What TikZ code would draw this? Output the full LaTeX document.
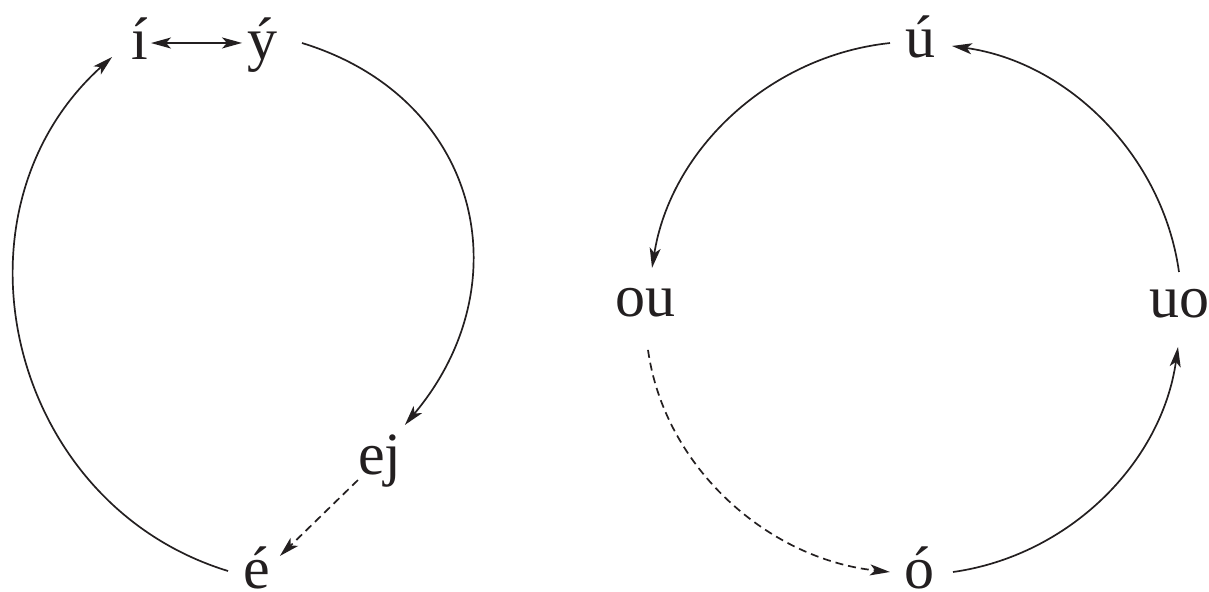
\documentclass[tikz,border=0pt]{standalone}
\usepackage{fontspec}
\setmainfont{Liberation Serif}
\usetikzlibrary{arrows.meta,calc}
\definecolor{ink}{RGB}{35,31,32}
\begin{document}
\begin{tikzpicture}[x=0.5pt,y=-0.5pt,
  lbl/.style={font=\fontsize{30pt}{36pt}\selectfont, text=ink, inner sep=0pt, text height=16pt, text depth=0pt},
  tip/.tip={Stealth[length=10pt,width=5.5pt,inset=2.5pt]},
  line/.style={draw=ink, line width=0.85pt},
  arr/.style={line, -tip},
  dsh/.style={arr, dash pattern=on 4pt off 2.5pt}]
\useasboundingbox (0,0) rectangle (1209,592);
% left cycle
\node[lbl] (i) at (140,44) {í};
\node[lbl] (y) at (262,44) {ý};
\node[lbl] (ej) at (380,458) {ej};
\node[lbl] (e) at (257,572) {é};
% right cycle
\node[lbl] (u) at (920,42) {ú};
\node[lbl] (ou) at (645,301) {ou};
\node[lbl] (uo) at (1179,302) {uo};
\node[lbl] (o) at (919,572) {ó};
% left connectors
\draw[line, tip-tip] ($(i)+(5:5.5pt)$) -- ($(y)+(177:10pt)$);
\draw[arr] ($(y)+(1.4:20pt)$) to[out=-17, in=50, looseness=1.2] ($(ej)+(53:20.7pt)$);
\draw[dsh] ($(ej)+(225:15.6pt)$) -- ($(e)+(35:14pt)$);
\draw[arr] ($(e)+(178:14.5pt)$) to[out=163, in=222, looseness=1.12] ($(i)+(205:15.4pt)$);
% right connectors
\draw[arr] ($(u)+(182:15pt)$) to[out=186, in=81, looseness=0.94] ($(ou)+(78:16.9pt)$);
\draw[dsh] ($(ou)+(273.5:24.5pt)$) to[out=278, in=174, looseness=0.94] ($(o)+(180:14.5pt)$);
\draw[arr] ($(o)+(0:17pt)$) to[out=8, in=262, looseness=0.94] ($(uo)+(268.7:22.5pt)$);
\draw[arr] ($(uo)+(90:15pt)$) to[out=98, in=352, looseness=0.94] ($(u)+(352.9:16.1pt)$);
\end{tikzpicture}
\end{document}
